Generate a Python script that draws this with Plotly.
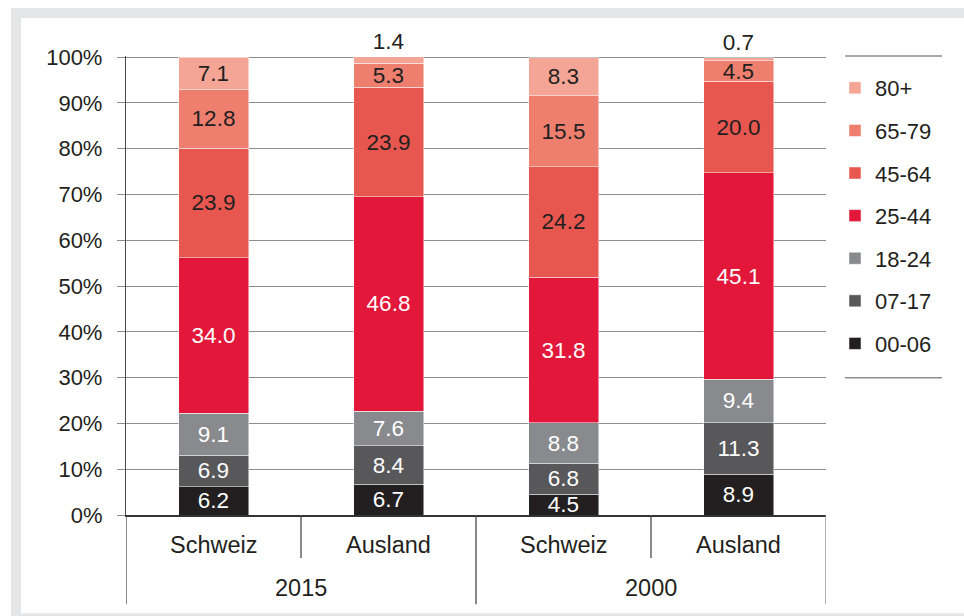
import plotly.graph_objects as go

# ---- data ----
countries = ["Schweiz", "Ausland", "Schweiz", "Ausland"]
years = ["2015", "2015", "2000", "2000"]
age_groups = ["00-06", "07-17", "18-24", "25-44", "45-64", "65-79", "80+"]
values = {
    "00-06": [6.2, 6.7, 4.5, 8.9],
    "07-17": [6.9, 8.4, 6.8, 11.3],
    "18-24": [9.1, 7.6, 8.8, 9.4],
    "25-44": [34.0, 46.8, 31.8, 45.1],
    "45-64": [23.9, 23.9, 24.2, 20.0],
    "65-79": [12.8, 5.3, 15.5, 4.5],
    "80+":   [7.1, 1.4, 8.3, 0.7],
}
y_ticks = [0, 10, 20, 30, 40, 50, 60, 70, 80, 90, 100]

# ---- style ----
colors = {
    "00-06": "#231f20",
    "07-17": "#58585a",
    "18-24": "#898a8e",
    "25-44": "#e2173a",
    "45-64": "#e8574f",
    "65-79": "#ee7f6f",
    "80+":   "#f4a595",
}
text_colors = {
    "00-06": "white", "07-17": "white", "18-24": "white", "25-44": "white",
    "45-64": "#231f20", "65-79": "#231f20", "80+": "#231f20",
}
FONT = "Liberation Sans, Arial, sans-serif"
FS = 22
FS_BAR = 22.5
FS_CAT = 23.5
DARK = "#231f20"
GRID = "#8e8e8e"

xpos = list(range(len(countries)))

fig = go.Figure()
for k, g in enumerate(age_groups):
    vals = values[g]
    if g == "80+":
        tpos = ["outside" if v < 3 else "inside" for v in vals]
    else:
        tpos = "inside"
    fig.add_trace(go.Bar(
        x=xpos, y=vals, name=g, legendgroup=g,
        legendrank=1000 - k,
        marker=dict(color=colors[g], line=dict(color="rgba(255,255,255,0.6)", width=0.8)),
        text=[f"{v:.1f}" for v in vals],
        textposition=tpos,
        insidetextanchor="middle",
        textangle=0,
        constraintext="none",
        cliponaxis=False,
        insidetextfont=dict(family=FONT, size=FS_BAR, color=text_colors[g]),
        outsidetextfont=dict(family=FONT, size=FS_BAR, color=DARK),
        width=0.4,
        hoverinfo="skip",
    ))

# pixel -> paper conversions for a 700x458 plot area at l=126, t=57
W_PLOT, H_PLOT, L, T = 700, 458, 126, 57
YMAX = 100.25
def px(xp):
    return (xp - L) / W_PLOT
def py(yp):
    return (T + H_PLOT - yp) / H_PLOT

shapes = [
    dict(type="rect", xref="paper", yref="paper", x0=px(11), x1=px(970), y0=py(9), y1=py(620),
         fillcolor="#e5e6e8", line=dict(width=0), layer="below"),
    dict(type="rect", xref="paper", yref="paper", x0=px(21), x1=px(970), y0=py(19), y1=py(613),
         fillcolor="white", line=dict(width=0), layer="below"),
    # legend rules
    dict(type="line", xref="paper", yref="paper", x0=px(845), x1=px(942), y0=py(57), y1=py(57),
         line=dict(color=GRID, width=1.5)),
    dict(type="line", xref="paper", yref="paper", x0=px(845), x1=px(942), y0=py(378), y1=py(378),
         line=dict(color=GRID, width=1.5)),
]
# category dividers
n = len(countries)
for i in range(n + 1):
    xb = i - 0.5
    is_group = (i == 0 or i == n or years[i - 1] != years[min(i, n - 1)])
    shapes.append(dict(type="line", xref="x", yref="paper", x0=xb, x1=xb,
                       y0=0, y1=py(604) if is_group else py(558),
                       line=dict(color="#4a4a4a" if i < n else "#8a8a8a", width=1.3)))

annotations = []
for i, c in enumerate(countries):
    annotations.append(dict(x=i, y=py(545), xref="x", yref="paper", text=c, showarrow=False,
                            font=dict(family=FONT, size=FS_CAT, color=DARK), yanchor="middle"))
seen = []
for yr in years:
    if yr in seen:
        continue
    seen.append(yr)
    idx = [i for i, v in enumerate(years) if v == yr]
    annotations.append(dict(x=sum(idx) / len(idx), y=py(588), xref="x", yref="paper", text=yr,
                            showarrow=False, font=dict(family=FONT, size=FS_CAT, color=DARK),
                            yanchor="middle"))

fig.update_layout(
    width=964, height=616,
    margin=dict(l=L, r=964 - L - W_PLOT, t=T - int(round((YMAX - 100) / 100 * H_PLOT)),
                b=616 - T - H_PLOT, autoexpand=False),
    barmode="stack",
    paper_bgcolor="white",
    plot_bgcolor="rgba(0,0,0,0)",
    font=dict(family=FONT, size=FS, color=DARK),
    showlegend=True,
    legend=dict(
        traceorder="grouped", x=px(835), xanchor="left", y=py(68), yanchor="top",
        font=dict(family=FONT, size=FS, color=DARK), tracegroupgap=11,
        bgcolor="rgba(0,0,0,0)", itemclick=False,
    ),
    xaxis=dict(range=[-0.5, n - 0.5], showticklabels=False, showgrid=False, zeroline=False,
               showline=True, linecolor="#333333", linewidth=1.5, ticks="", fixedrange=True),
    yaxis=dict(range=[0, YMAX], tickvals=y_ticks, ticktext=[f"{v}%" for v in y_ticks],
               showgrid=True, gridcolor=GRID, gridwidth=1.3, zeroline=False,
               ticks="outside", ticklen=8, tickcolor=GRID, tickwidth=1.3,
               showline=True, linecolor="#4a4a4a", linewidth=1.3,
               ticklabelstandoff=10, tickfont=dict(family=FONT, size=FS, color=DARK),
               fixedrange=True),
    shapes=shapes,
    annotations=annotations,
)

fig.write_html("out.html", config={"displayModeBar": False},
               post_script="document.body.style.margin='0px';")
